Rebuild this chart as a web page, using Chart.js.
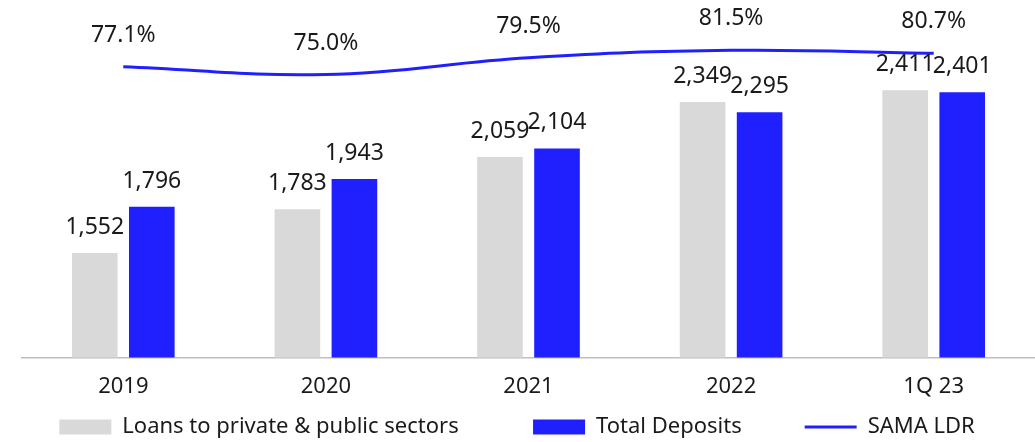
<!DOCTYPE html>
<html>
<head>
<meta charset="utf-8">
<script src="https://cdn.jsdelivr.net/npm/chart.js@4"></script>
<style>
  html, body { margin: 0; padding: 0; background: #fff; }
  #wrap { width: 1035px; height: 442px; position: relative; }
</style>
</head>
<body>
<div id="wrap"><canvas id="chart"></canvas></div>
<script>
// Datos
const categories = ['2019', '2020', '2021', '2022', '1Q 23'];
const loans = [1552, 1783, 2059, 2349, 2411];
const deposits = [1796, 1943, 2104, 2295, 2401];
const ldr = [77.1, 75.0, 79.5, 81.5, 80.7];

// Colores
const grayColor = '#D9D9D9';
const blueColor = '#2020FF';
const textColor = '#1a1a1a';
const fontFamily = '"Noto Sans", "Open Sans", sans-serif';

// Espacio horizontal extra detrás de cada texto de la leyenda
const legendGaps = [13, 11, 4];

// Etiquetas de valores encima de barras y línea
const valueLabels = {
    id: 'valueLabels',
    afterDatasetsDraw(chart) {
        const ctx = chart.ctx;
        ctx.save();
        ctx.fillStyle = textColor;
        ctx.textAlign = 'center';
        ctx.textBaseline = 'alphabetic';
        ctx.font = '23px ' + fontFamily;
        chart.data.datasets.forEach((ds, di) => {
            const meta = chart.getDatasetMeta(di);
            meta.data.forEach((el, i) => {
                const v = ds.data[i];
                if (ds.type === 'line') {
                    ctx.fillText(v.toFixed(1) + '%', el.x, el.y - 25);
                } else {
                    ctx.fillText(v.toLocaleString('en-US'), el.x, el.y - 19);
                }
            });
        });
        ctx.restore();
    }
};

new Chart(document.getElementById('chart'), {
    data: {
        labels: categories,
        datasets: [
            {
                type: 'line',
                label: 'SAMA LDR',
                data: ldr,
                yAxisID: 'y1',
                borderColor: blueColor,
                backgroundColor: blueColor,
                borderWidth: 3,
                tension: 0.4,
                pointRadius: 0,
                order: 0
            },
            {
                type: 'bar',
                label: 'Loans to private & public sectors',
                data: loans,
                backgroundColor: grayColor,
                borderWidth: 0,
                barPercentage: 0.8,
                categoryPercentage: 0.563,
                order: 1
            },
            {
                type: 'bar',
                label: 'Total Deposits',
                data: deposits,
                backgroundColor: blueColor,
                borderWidth: 0,
                barPercentage: 0.8,
                categoryPercentage: 0.563,
                order: 1
            }
        ]
    },
    options: {
        responsive: true,
        maintainAspectRatio: false,
        animation: false,
        layout: { padding: { left: 22, right: 0, top: 0, bottom: -6 } },
        scales: {
            x: {
                offset: true,
                grid: { display: false, drawTicks: false },
                border: { display: true, color: '#BFBFBF', width: 1.5 },
                ticks: { color: textColor, font: { family: fontFamily, size: 22 }, padding: 16 }
            },
            y: { display: false, min: 1000, max: 2888 },
            y1: { display: false, position: 'right', min: -1, max: 95 }
        },
        plugins: {
            tooltip: { enabled: false },
            legend: {
                position: 'bottom',
                labels: {
                    color: textColor,
                    font: { family: fontFamily, size: 22 },
                    usePointStyle: true,
                    pointStyleWidth: 52,
                    boxHeight: 15,
                    padding: 0,
                    generateLabels: (chart) => {
                        const items = Chart.defaults.plugins.legend.labels.generateLabels(chart);
                        // orden: barras primero, luego la línea
                        const ordered = [items[1], items[2], items[0]];
                        ordered.forEach((it, k) => {
                            it.text = it.text + '\u00A0'.repeat(legendGaps[k]);
                            if (it.datasetIndex === 0) {
                                it.pointStyle = 'line';
                                it.strokeStyle = blueColor;
                                it.lineWidth = 3;
                            } else {
                                it.pointStyle = 'rect';
                                it.lineWidth = 0;
                                it.strokeStyle = it.fillStyle;
                            }
                        });
                        return ordered;
                    }
                }
            }
        }
    },
    plugins: [valueLabels]
});
</script>
</body>
</html>
